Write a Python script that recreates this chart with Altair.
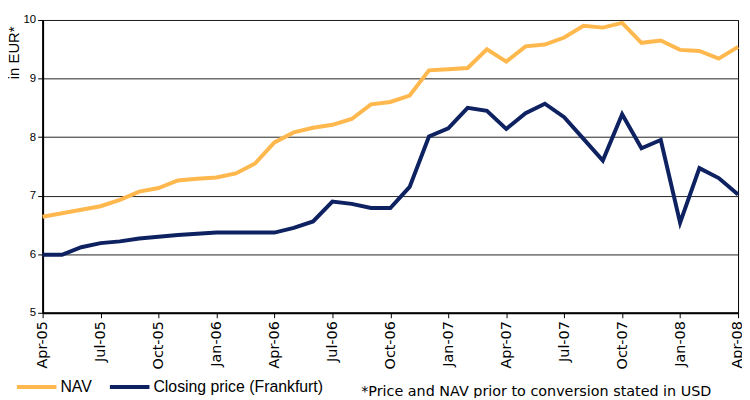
import altair as alt
import pandas as pd

months = ["Apr-05","May-05","Jun-05","Jul-05","Aug-05","Sep-05","Oct-05","Nov-05","Dec-05",
          "Jan-06","Feb-06","Mar-06","Apr-06","May-06","Jun-06","Jul-06","Aug-06","Sep-06","Oct-06","Nov-06","Dec-06",
          "Jan-07","Feb-07","Mar-07","Apr-07","May-07","Jun-07","Jul-07","Aug-07","Sep-07","Oct-07","Nov-07","Dec-07",
          "Jan-08","Feb-08","Mar-08","Apr-08"]
nav = [6.64,6.70,6.76,6.82,6.93,7.07,7.13,7.26,7.29,
       7.31,7.38,7.55,7.91,8.08,8.16,8.21,8.31,8.56,8.60,8.71,9.14,
       9.16,9.18,9.50,9.29,9.55,9.58,9.70,9.90,9.87,9.95,9.61,9.65,
       9.49,9.47,9.34,9.54]
closing = [5.99,5.99,6.12,6.19,6.22,6.27,6.30,6.33,6.35,
           6.37,6.37,6.37,6.37,6.45,6.56,6.90,6.86,6.79,6.79,7.15,8.01,
           8.15,8.50,8.45,8.14,8.41,8.57,8.34,7.97,7.60,8.39,7.81,7.95,
           6.54,7.47,7.30,7.02]
series_names = ["NAV", "Closing price (Frankfurt)"]
tick_months = months[::3]
footnote = "*Price and NAV prior to conversion stated in USD"

rows = []
for m, a, b in zip(months, nav, closing):
    rows.append({"month": m, "series": series_names[0], "value": a})
    rows.append({"month": m, "series": series_names[1], "value": b})
df = pd.DataFrame(rows)

VFONT = "DejaVu Sans"
AFONT = "Liberation Sans"

lines = alt.Chart(df).mark_line(strokeWidth=4, strokeJoin="miter").encode(
    x=alt.X("month:O", sort=months,
            scale=alt.Scale(type="point", padding=0),
            axis=alt.Axis(values=tick_months, title=None, labelAngle=-90,
                          labelFont=VFONT, labelFontSize=14.5, labelColor="#000",
                          labelAlign="right", labelBaseline="middle", labelPadding=3,
                          tickColor="#000", tickSize=5, domainColor="#000",
                          domainWidth=2, grid=False)),
    y=alt.Y("value:Q", scale=alt.Scale(domain=[5, 10], nice=False, zero=False),
            axis=alt.Axis(values=[5, 6, 7, 8, 9, 10], title="in EUR*",
                          titleFont=AFONT, titleFontSize=15, titleFontWeight="normal",
                          titleColor="#000", titleAngle=270, titleAlign="right",
                          titleBaseline="middle", titleX=-29, titleY=6,
                          labelFont=AFONT, labelFontSize=11.5, labelColor="#000",
                          labelPadding=2,
                          tickColor="#000", tickSize=5, domainColor="#000",
                          domainWidth=2, grid=True, gridColor="#222", gridWidth=1)),
    color=alt.Color("series:N", sort=series_names,
                    scale=alt.Scale(domain=series_names, range=["#FFB84D", "#0E2262"]),
                    legend=alt.Legend(title=None, orient="none", direction="horizontal",
                                      legendX=-28, legendY=349, padding=0,
                                      symbolType="stroke", symbolSize=1600,
                                      symbolStrokeWidth=4, labelFont=AFONT,
                                      labelFontSize=16, labelColor="#000",
                                      labelLimit=400,
                                      labelOffset=2, columnPadding=10)),
)

note = alt.Chart(pd.DataFrame({"t": [footnote]})).mark_text(
    font=VFONT, fontSize=14.5, align="left", baseline="alphabetic", color="#000"
).encode(text="t:N", x=alt.value(322), y=alt.value(380))

chart = alt.layer(lines, note).properties(
    width=703, height=296,
    autosize=alt.AutoSizeParams(type="none"),
    padding={"left": 35, "top": 10, "right": 4, "bottom": 84},
).configure_view(stroke="#000", strokeWidth=1)

chart.save("out.html", embed_options={"renderer": "svg", "actions": False})
